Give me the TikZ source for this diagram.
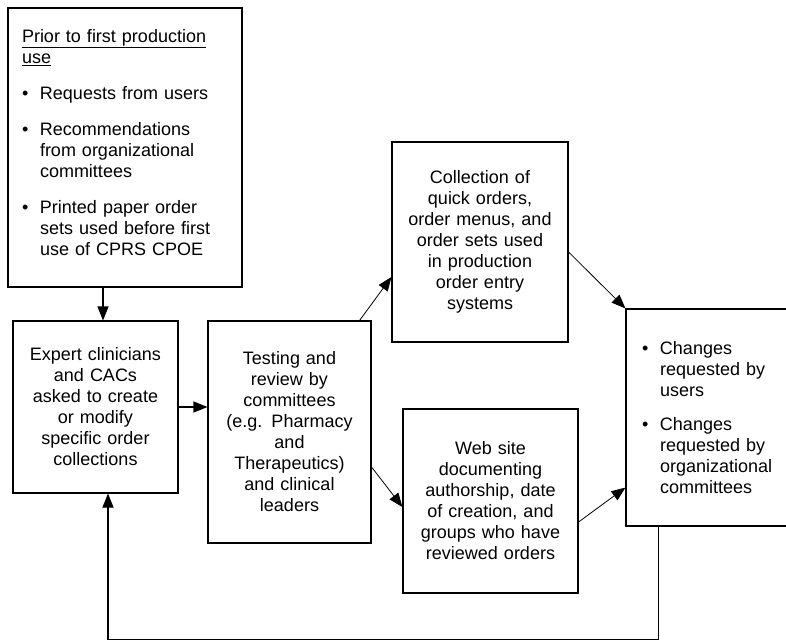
\documentclass[tikz,border=0pt]{standalone}
\usepackage{fontspec}
\setmainfont{Liberation Sans}
\usetikzlibrary{arrows.meta}

% bullet line with hanging indent
\newcommand{\bitem}[2][15pt]{\par\vspace{#1}\hangindent=18pt\hangafter=1\noindent\makebox[18pt][l]{\textbullet}#2\par}
% extra room under a list, keeps the text higher in its box
\newcommand{\listpad}[1]{\par\vspace{#1}\hrule height 0pt width 0pt}

\tikzset{
  box/.style={draw, line width=1.1pt, inner sep=0pt, align=center, font=\fontsize{18}{21}\selectfont},
  listbox/.style={box, align=left},
  arr/.style={-{Triangle[length=14pt,width=11pt]}, line width=1.1pt},
  thinarr/.style={arr, line width=0.8pt}
}

\begin{document}
\begin{tikzpicture}[x=1pt, y=-1pt]
    \useasboundingbox (0,0) rectangle (786,641);

    % Create the boxes
    \node[listbox, minimum width=234, minimum height=279, text width=206, inner xsep=14] (A) at (125,147.5)
      {\underline{Prior to first production}\newline\underline{use}
       \bitem{Requests from users}
       \bitem{Recommendations\newline from organizational\newline committees}
       \bitem{Printed paper order\newline sets used before first\newline use of CPRS CPOE}
       \listpad{10pt}};
    \node[box, minimum width=165, minimum height=172, text width=150] (B) at (95.5,407)
      {Expert clinicians\\and CACs\\asked to create\\or modify\\specific order\\collections};
    \node[box, minimum width=163, minimum height=222, text width=150] (C) at (289.5,432)
      {Testing and\\review by\\committees\\(e.g. Pharmacy\\and\\Therapeutics)\\and clinical\\leaders};
    \node[box, minimum width=176, minimum height=200, text width=160] (D) at (480,242)
      {Collection of\\quick orders,\\order menus, and\\order sets used\\in production\\order entry\\systems};
    \node[box, minimum width=175, minimum height=184, text width=160] (E) at (490.5,501)
      {Web site\\documenting\\authorship, date\\of creation, and\\groups who have\\reviewed orders};
    \node[listbox, minimum width=174, minimum height=217, text width=142, inner xsep=16] (F) at (713,417.5)
      {\bitem[0pt]{Changes\newline requested by\newline users}
       \bitem[13pt]{Changes\newline requested by\newline organizational\newline committees}
       \listpad{7pt}};

    % Draw the arrows
    \draw[arr] ([xshift=-22pt]A.south) -- ([xshift=-22pt]A.south |- B.north);
    \draw[arr] (B.east) -- (B.east -| C.west);
    \draw[thinarr] ([xshift=-12pt]C.north east) -- ([yshift=-35pt]D.west);
    \draw[thinarr] ([yshift=-35pt]C.east) -- ([yshift=-6pt]E.west);
    \draw[thinarr] ([yshift=-10pt]D.east) -- (F.north west);
    \draw[thinarr] ([yshift=-21pt]E.east) -- ([yshift=39pt]F.south west);

    % Feedback loop back to the experts
    \draw[arr] ([xshift=33pt]F.south west) -- ++(0,113) -| ([xshift=12.5pt]B.south);
\end{tikzpicture}
\end{document}
